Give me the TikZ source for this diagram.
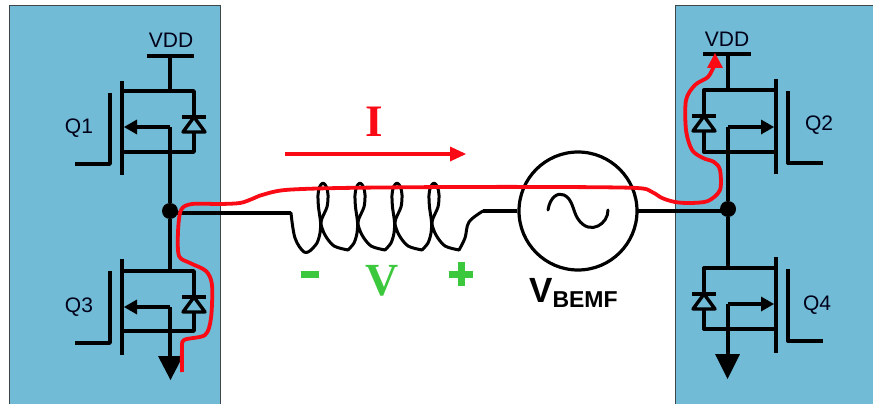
\documentclass[tikz,border=0pt]{standalone}
\usepackage{fontspec}
\setmainfont{Liberation Sans}
\newfontfamily\serifbold[BoldFont={Liberation Serif Bold}]{Liberation Serif}
\definecolor{panel}{RGB}{113,187,214}
\definecolor{paneledge}{RGB}{60,70,75}
\definecolor{curr}{RGB}{250,10,20}
\definecolor{volt}{RGB}{60,200,60}
\tikzset{
  wire/.style={line width=3.4pt,black,line join=round},
  thinwire/.style={line width=3pt,black,line join=round,line cap=round},
  panelbox/.style={fill=panel,draw=paneledge,line width=1.2pt,inner sep=0pt,anchor=north west,minimum height=405pt},
  currpath/.style={line width=3.8pt,curr,line cap=butt,line join=round},
  lab/.style={font=\fontsize{21}{23}\selectfont,inner sep=0pt,text=black!90!blue},
  junction/.style={circle,fill=black,inner sep=0pt,minimum size=16pt},
  gndpoint/.style={inner sep=0pt,minimum size=0pt},
  pics/fet/.style n args={6}{code={
    % #1 bar top, #2 bar bottom, #3 gate top, #4 gate bottom, #5 source, #6 arrow
    \draw[wire] (-48,#1) -- (-48,#2);
    \draw[wire] (-95,#4) -- (-60,#4) -- (-60,#3);
    \draw[wire] (-48,0) -- (24,0) -- (24,#5) -- (-48,#5);
    \draw[wire,fill=panel] (24,26) -- (13,41) -- (35,41) -- cycle;
    \draw[wire] (12,26) -- (36,26);
    \draw[wire] (0,#6) -- (-34,#6);
    \fill[black] (-46,#6) -- (-33,{#6-7.5}) -- (-33,{#6+7.5}) -- cycle;
  }}
}
\begin{document}
\begin{tikzpicture}[x=1pt,y=-1pt]
\useasboundingbox (0,0) rectangle (873,404);
\node[panelbox,minimum width=211pt] (leftpanel) at (9,5) {};
\node[panelbox,minimum width=210pt] (rightpanel) at (675,5) {};

% left half-bridge
\coordinate (q1d) at (170,91);
\coordinate (q3d) at (170,271);
\pic at (q1d) {fet={-10}{84}{2}{73}{61}{36}};
\pic at (q3d) {fet={-12}{84}{0}{72}{60}{36}};
\node[junction] (swL) at (170,211) {};
\coordinate (vddL) at (170,56);
\coordinate (q1s) at (170,127);
\coordinate (q3s) at (170,307);
\node[gndpoint] (gndLc) at (170,358) {};
\draw[wire] (147,56) -- (194,56);
\draw[wire] (vddL) -- (q1d);
\draw[wire] (q1s) -- (swL);
\draw[wire] (swL) -- (q3d);
\draw[wire] (q3s) -- (gndLc);
\fill[black] (158,356) -- (183,356) -- (170.5,380) -- cycle;

% right half-bridge
\coordinate (q2d) at (728,90);
\coordinate (q4d) at (728,268);
\pic[xscale=-1] at (q2d) {fet={-11}{84}{1}{73}{62}{37}};
\pic[xscale=-1] at (q4d) {fet={-11}{85}{1}{73}{61}{36}};
\node[junction] (swR) at (728,209) {};
\coordinate (vddR) at (728,54);
\coordinate (q2s) at (728,127);
\coordinate (q4s) at (728,304);
\node[gndpoint] (gndRc) at (728,356) {};
\draw[wire] (703,54) -- (751,54);
\draw[wire] (vddR) -- (q2d);
\draw[wire] (q2s) -- (swR);
\draw[wire] (swR) -- (q4d);
\draw[wire] (q4s) -- (gndRc);
\fill[black] (715,354) -- (740,354) -- (727.5,379) -- cycle;

% source
\node[circle,draw=black,line width=3.2pt,minimum size=118pt,inner sep=0pt] (src) at (578,211) {};
\draw[thinwire] (548,210) .. controls (550,197) and (558,192) .. (564,195)
   .. controls (573,199) and (573,212) .. (578,219)
   .. controls (584,228) and (592,229) .. (598,226)
   .. controls (604,223) and (608,217) .. (608,210);

% coil and wires
\coordinate (coilL) at (291,213);
\coordinate (coilR) at (483,211);
\coordinate (srcRw) at (638,211);
\coordinate (swRw) at (728,211);
\draw[wire] (swL |- coilL) -- (coilL);
\draw[thinwire] plot[smooth,tension=0.6] coordinates {
  (coilL) (295,238) (304,252) (311,250)};
\foreach \t in {323,360,397,434}{
  \draw[thinwire] plot[smooth,tension=0.5] coordinates {
    ({\t-12},250) ({\t-6},243) ({\t-3},233) ({\t-2.5},222) ({\t-4.5},207) ({\t-5},195) ({\t-3.5},187) (\t,183)
    ({\t+3.5},187) ({\t+5},195) ({\t+4},207) ({\t-2},222) ({\t+2},235) ({\t+11},246) ({\t+25},250)};
}
\draw[thinwire] plot[smooth,tension=0.6] coordinates {
  (459,250) (465,238) (469,222) (coilR)};
\draw[wire] (coilR) -- (src.west |- coilR);
\draw[wire] (srcRw) -- (swRw);

% current path
\draw[currpath] plot[smooth,tension=0.5] coordinates {
  (182,372) (182,350) (184,340) (205,335) (211,318) (212,285) (206,271) (190,263) (179,256)
  (178,232) (181,210) (192,204) (220,204) (240,203) (252,199) (262,195) (285,190) (340,188)
  (450,187) (560,187) (637,188) (652,192) (662,198) (675,202) (690,203) (708,201) (720,190)
  (720,170) (714,162) (703,158) (692,150) (686,130) (686,100) (695,85) (708,77) (714,66)};
\fill[curr] (715,53) -- (707,68) -- (723,68) -- cycle;

% current arrow
\coordinate (iA) at (285,154);
\coordinate (iB) at (452,154);
\draw[line width=3.2pt,curr] (iA) -- (iB);
\fill[curr] (466,154) -- (450,146.5) -- (450,161.5) -- cycle;

% labels
\node[lab] (vddl) at (171,40) {VDD};
\node[lab] (vddr) at (727,39) {VDD};
\node[lab] (q1) at (79,128) {Q1};
\node[lab] (q3) at (79,307) {Q3};
\node[lab] (q2) at (819,125) {Q2};
\node[lab] (q4) at (817,305) {Q4};
\node[inner sep=0pt,text=curr,font=\fontsize{45}{45}\selectfont\serifbold\bfseries] (ilab) at (374,122) {I};
\node[inner sep=0pt,text=volt,font=\fontsize{46}{46}\selectfont\serifbold\bfseries] (vlab) at (382,281) {V};
\node[fill=volt,inner sep=0pt,minimum width=18pt,minimum height=7pt] (minus) at (310,274) {};
\node[fill=volt,inner sep=0pt,minimum width=24pt,minimum height=7pt] (plusa) at (461,274) {};
\node[fill=volt,inner sep=0pt,minimum width=7pt,minimum height=24pt] (plusb) at (461,274) {};
\node[anchor=base west,inner sep=0pt,font=\bfseries] (vb) at (529,302) {\fontsize{35}{35}\selectfont V\raisebox{-5pt}{\fontsize{23}{23}\selectfont BEMF}};
\end{tikzpicture}
\end{document}
